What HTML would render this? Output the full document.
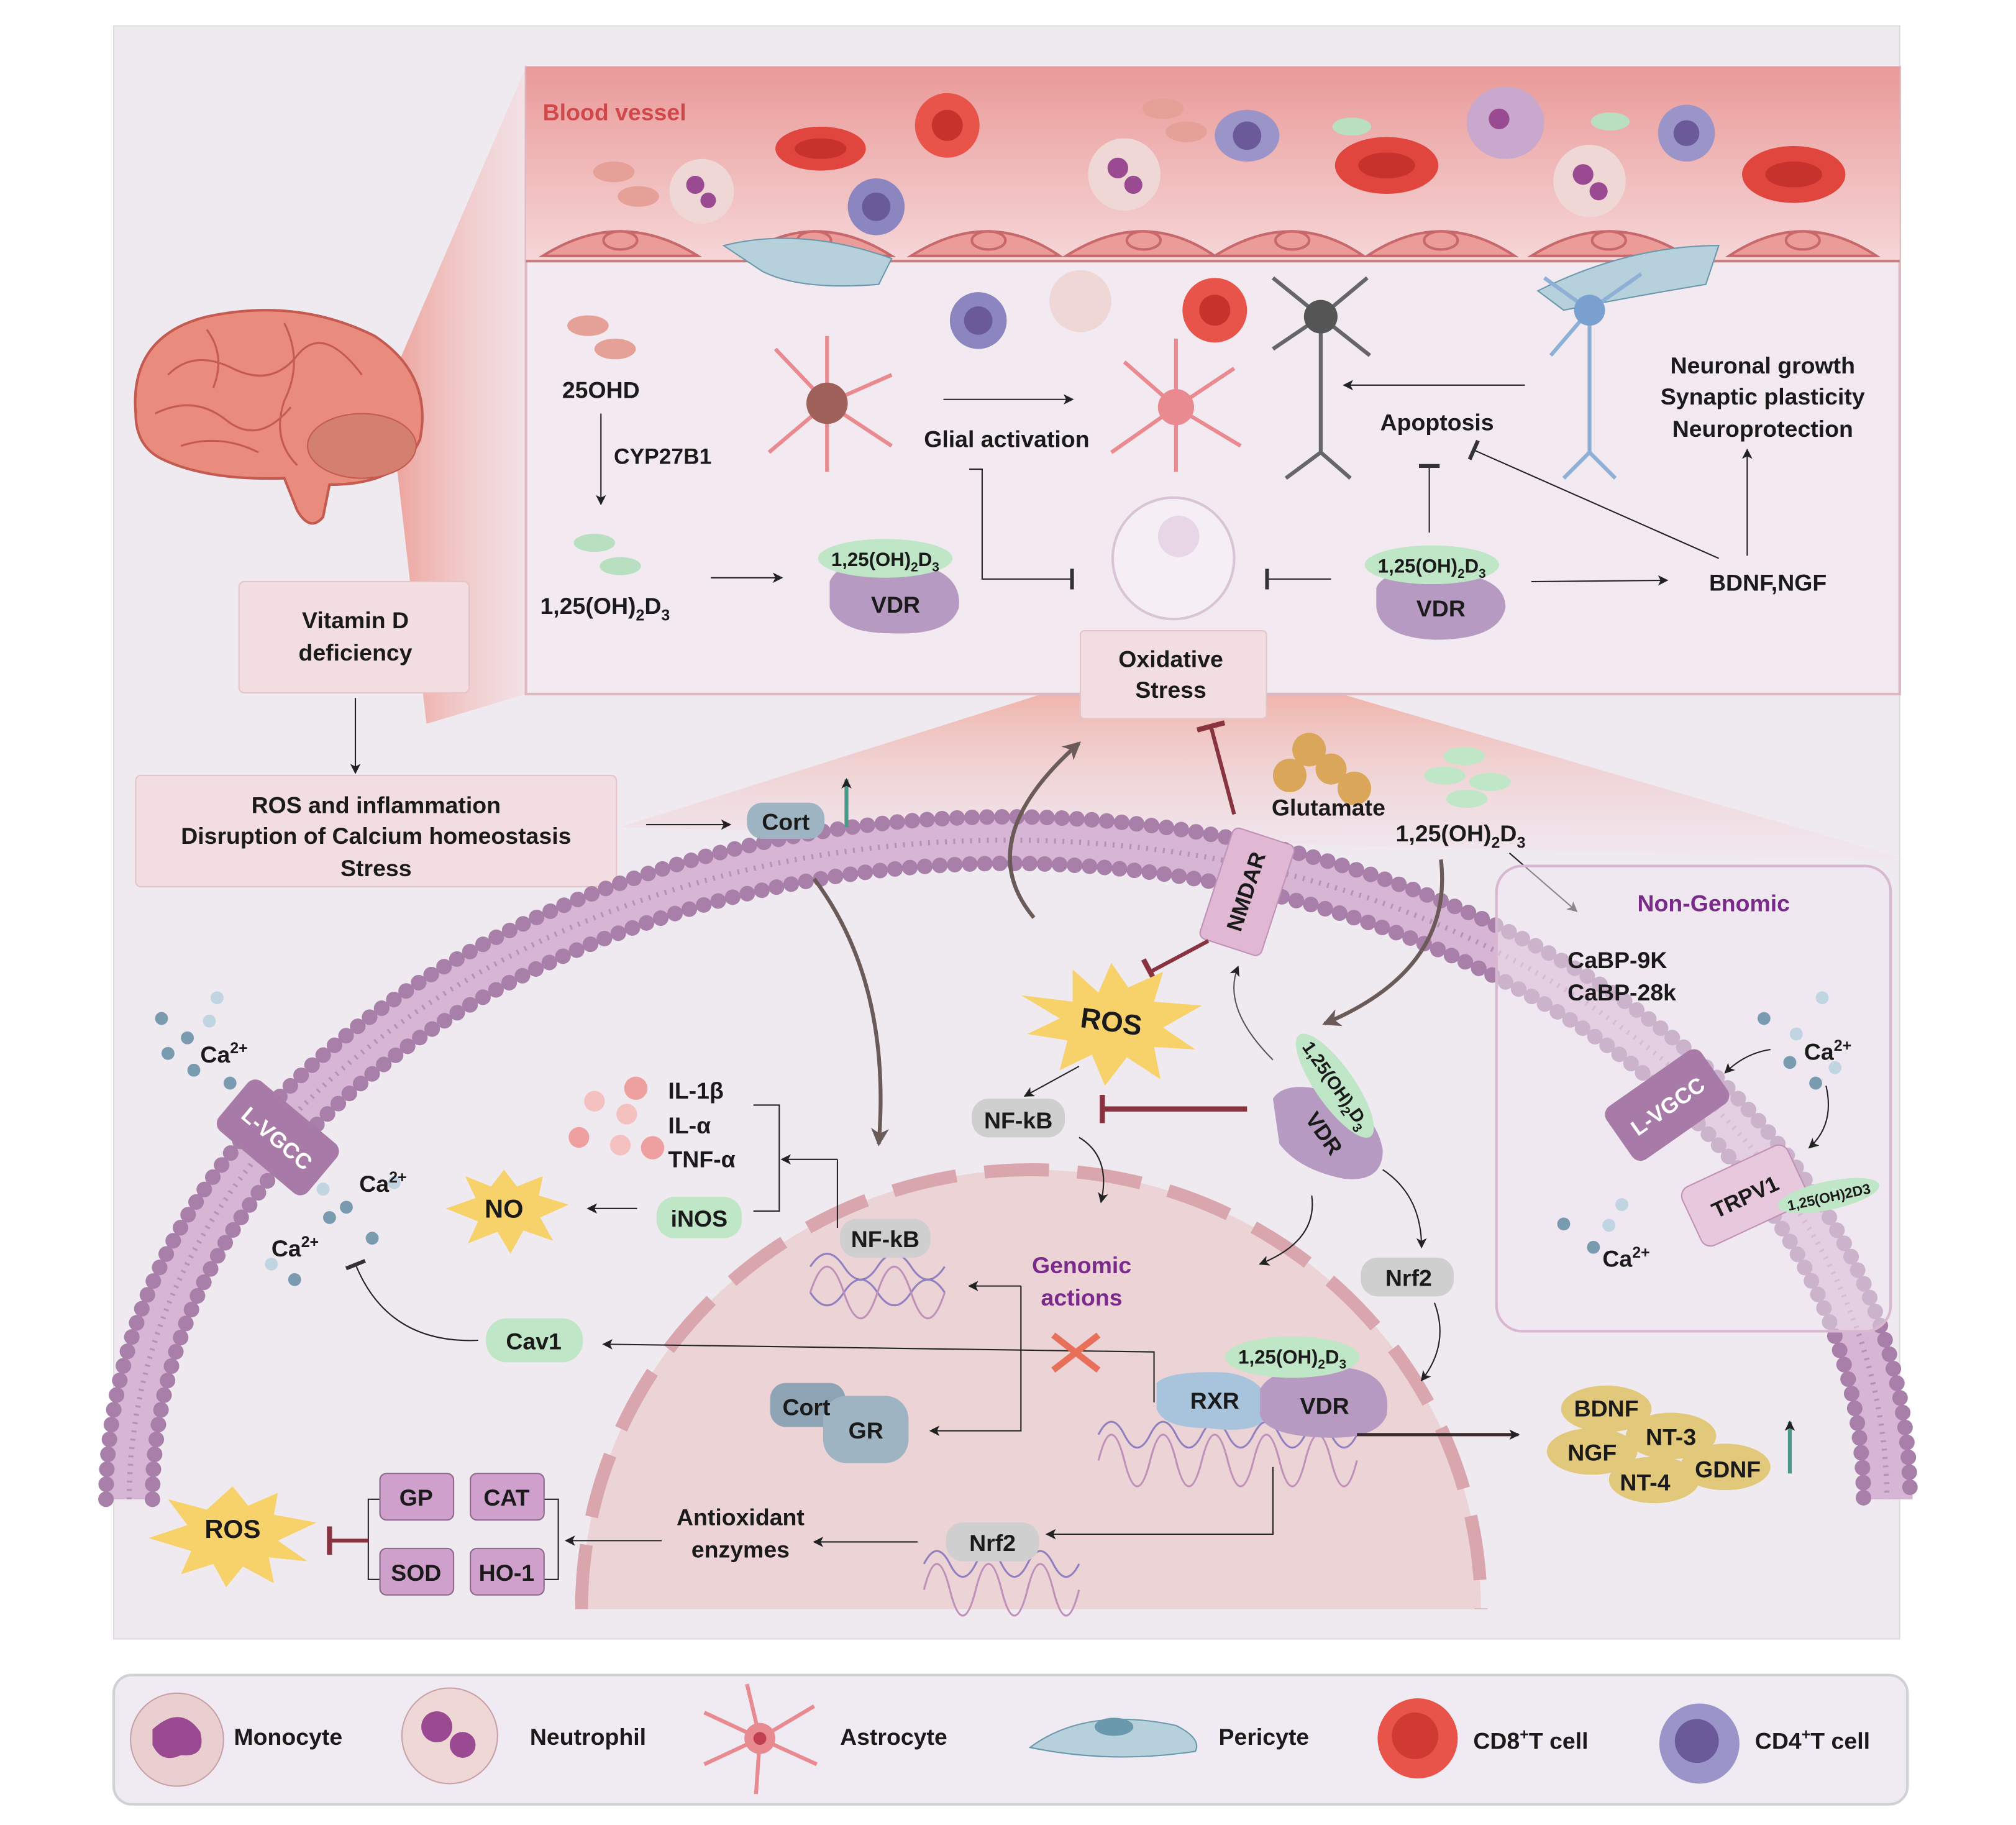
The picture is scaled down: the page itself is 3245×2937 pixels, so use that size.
<!DOCTYPE html>
<html><head><meta charset="utf-8"><style>
html,body{margin:0;padding:0;background:#fff}
svg{display:block}
text{font-family:"Liberation Sans",sans-serif;font-weight:bold;fill:#1a1a1a}
</style></head><body>
<svg width="3245" height="2937" viewBox="0 0 1560 1412" preserveAspectRatio="none" xmlns="http://www.w3.org/2000/svg">
<defs>
<linearGradient id="bv" x1="0" y1="0" x2="0" y2="1"><stop offset="0" stop-color="#e99a98"/><stop offset="1" stop-color="#f6d6d8"/></linearGradient>
<linearGradient id="tri" x1="0" y1="0" x2="1" y2="0"><stop offset="0" stop-color="#ec8c80"/><stop offset="1" stop-color="#f6d6d6" stop-opacity="0.5"/></linearGradient>
<linearGradient id="tri2" x1="0" y1="0" x2="0" y2="1"><stop offset="0" stop-color="#ef9a88"/><stop offset="1" stop-color="#f3dfe6" stop-opacity="0.3"/></linearGradient>
<marker id="a" markerWidth="8" markerHeight="8" refX="7" refY="4" orient="auto" markerUnits="userSpaceOnUse"><path d="M0,0 L8,4 L0,8 L2,4z" fill="#222"/></marker>
<marker id="ab" markerWidth="14" markerHeight="14" refX="12" refY="7" orient="auto" markerUnits="userSpaceOnUse"><path d="M0,0 L14,7 L0,14 L4,7z" fill="#6a5a58"/></marker>
<marker id="t" markerWidth="4" markerHeight="16" refX="2" refY="8" orient="auto" markerUnits="userSpaceOnUse"><rect width="3" height="16" fill="#333"/></marker>
<marker id="tr" markerWidth="5" markerHeight="22" refX="2" refY="11" orient="auto" markerUnits="userSpaceOnUse"><rect width="4" height="22" fill="#8a3340"/></marker>
</defs>
<rect x="0" y="0" width="1560" height="1412" fill="#fff"/>
<rect x="88" y="20" width="1382" height="1248" fill="#efe9f0" stroke="#ddd" />
<path d="M300,300 L407,52 L407,537 L330,560 Z" fill="url(#tri)" opacity="0.8"/>
<path d="M480,640 L860,520 L980,520 L1475,665 Z" fill="url(#tri2)" opacity="0.8"/>
<rect x="407" y="52" width="1063" height="485" fill="#f3eaf1" stroke="#dcb8c0" stroke-width="2"/>
<rect x="407" y="52" width="1063" height="150" fill="url(#bv)"/>
<line x1="407" y1="202" x2="1470" y2="202" stroke="#c77c80" stroke-width="2"/>
<text x="420" y="93" font-size="18" style="fill:#d0484a">Blood vessel</text>
<g fill="#eb9c98" stroke="#c8686a" stroke-width="2">
<path d="M420,198 Q480,160 540,198Z"/><path d="M575,198 Q630,160 690,198Z"/><path d="M705,198 Q765,160 820,198Z"/><path d="M825,198 Q885,160 940,198Z"/><path d="M940,198 Q1000,160 1055,198Z"/><path d="M1058,198 Q1115,160 1172,198Z"/><path d="M1185,198 Q1245,160 1305,198Z"/><path d="M1338,198 Q1395,160 1452,198Z"/>
</g>
<g fill="none" stroke="#c8686a" stroke-width="2"><ellipse cx="480" cy="186" rx="13" ry="7"/><ellipse cx="630" cy="186" rx="13" ry="7"/><ellipse cx="765" cy="186" rx="13" ry="7"/><ellipse cx="885" cy="186" rx="13" ry="7"/><ellipse cx="1000" cy="186" rx="13" ry="7"/><ellipse cx="1115" cy="186" rx="13" ry="7"/><ellipse cx="1245" cy="186" rx="13" ry="7"/><ellipse cx="1395" cy="186" rx="13" ry="7"/></g>
<g><ellipse cx="635" cy="115" rx="35" ry="17" fill="#e0463e"/><ellipse cx="733" cy="97" rx="25" ry="25" fill="#e8544a"/><ellipse cx="965" cy="105" rx="25" ry="20" fill="#9a94c8"/><ellipse cx="678" cy="160" rx="22" ry="22" fill="#8c86c0"/><ellipse cx="1073" cy="128" rx="40" ry="22" fill="#e0463e"/><ellipse cx="1388" cy="135" rx="40" ry="22" fill="#e0463e"/><ellipse cx="1305" cy="103" rx="22" ry="22" fill="#9a94c8"/><ellipse cx="543" cy="148" rx="25" ry="25" fill="#efd7d6"/><ellipse cx="870" cy="135" rx="28" ry="28" fill="#efd7d6"/><ellipse cx="1230" cy="140" rx="28" ry="28" fill="#efd7d6"/><ellipse cx="1165" cy="95" rx="30" ry="28" fill="#c8a8cc"/><ellipse cx="475" cy="133" rx="16" ry="8" fill="#e5a097"/><ellipse cx="494" cy="152" rx="16" ry="8" fill="#e5a097"/><ellipse cx="900" cy="84" rx="16" ry="8" fill="#e5a097"/><ellipse cx="918" cy="102" rx="16" ry="8" fill="#e5a097"/><ellipse cx="1046" cy="98" rx="15" ry="7" fill="#b8e0c0"/><ellipse cx="1246" cy="94" rx="15" ry="7" fill="#b8e0c0"/></g>
<g fill="#9a4a90"><circle cx="538" cy="143" r="7"/><circle cx="548" cy="155" r="6"/><circle cx="865" cy="130" r="8"/><circle cx="877" cy="143" r="7"/><circle cx="1225" cy="135" r="8"/><circle cx="1237" cy="148" r="7"/><circle cx="1160" cy="92" r="8"/></g>
<g fill="#6a5a9a"><circle cx="965" cy="105" r="11"/><circle cx="678" cy="160" r="11"/><circle cx="1305" cy="103" r="10"/></g>
<g fill="#c8322c"><ellipse cx="635" cy="115" rx="20" ry="8"/><circle cx="733" cy="97" r="12"/><ellipse cx="1073" cy="128" rx="22" ry="10"/><ellipse cx="1388" cy="135" rx="22" ry="10"/></g>
<path d="M560,190 Q620,175 690,200 L680,220 Q620,225 590,210Z" fill="#b6d0dc" stroke="#6a98ad"/>
<path d="M1190,225 Q1260,190 1330,190 L1320,220 Q1260,230 1210,240Z" fill="#b6d0dc" stroke="#6a98ad"/>
<circle cx="757" cy="248" r="22" fill="#8c86c0"/><circle cx="757" cy="248" r="11" fill="#6a5a9a"/><circle cx="836" cy="233" r="24" fill="#efd7d6"/><circle cx="940" cy="240" r="25" fill="#e8544a"/><circle cx="940" cy="240" r="12" fill="#c8322c"/>
<ellipse cx="455" cy="252" rx="16" ry="8" fill="#e5a097"/><ellipse cx="476" cy="270" rx="16" ry="8" fill="#e5a097"/>
<ellipse cx="460" cy="420" rx="16" ry="7" fill="#b8e0c0"/><ellipse cx="480" cy="438" rx="16" ry="7" fill="#b8e0c0"/>
<g stroke="#e98a90" stroke-width="3"><line x1="640" y1="312" x2="600" y2="270"/><line x1="640" y1="312" x2="690" y2="290"/><line x1="640" y1="312" x2="595" y2="350"/><line x1="640" y1="312" x2="690" y2="345"/><line x1="640" y1="312" x2="640" y2="260"/><line x1="640" y1="312" x2="640" y2="365"/>
<line x1="910" y1="315" x2="870" y2="280"/><line x1="910" y1="315" x2="955" y2="285"/><line x1="910" y1="315" x2="860" y2="350"/><line x1="910" y1="315" x2="960" y2="345"/><line x1="910" y1="315" x2="910" y2="262"/><line x1="910" y1="315" x2="910" y2="365"/></g>
<circle cx="640" cy="312" r="16" fill="#a0605a"/><circle cx="910" cy="315" r="14" fill="#e98a90"/>
<g stroke="#666" stroke-width="3"><line x1="1022" y1="245" x2="1022" y2="350"/><line x1="1022" y1="245" x2="985" y2="215"/><line x1="1022" y1="245" x2="1058" y2="215"/><line x1="1022" y1="245" x2="985" y2="270"/><line x1="1022" y1="245" x2="1060" y2="275"/><line x1="1022" y1="350" x2="995" y2="370"/><line x1="1022" y1="350" x2="1045" y2="370"/></g>
<circle cx="1022" cy="245" r="13" fill="#555"/>
<g stroke="#8fb0d6" stroke-width="3"><line x1="1230" y1="240" x2="1230" y2="350"/><line x1="1230" y1="240" x2="1195" y2="215"/><line x1="1230" y1="240" x2="1270" y2="212"/><line x1="1230" y1="240" x2="1200" y2="275"/><line x1="1230" y1="350" x2="1210" y2="370"/><line x1="1230" y1="350" x2="1250" y2="370"/></g>
<circle cx="1230" cy="240" r="12" fill="#7aa0d0"/>
<text x="465" y="308" font-size="18" text-anchor="middle">25OHD</text>
<line x1="465" y1="320" x2="465" y2="390" stroke="#222" marker-end="url(#a)"/>
<text x="475" y="359" font-size="17">CYP27B1</text>
<text x="418" y="475" font-size="18">1,25(OH)<tspan font-size="12" dy="5">2</tspan><tspan dy="-5">D</tspan><tspan font-size="12" dy="5">3</tspan></text>
<line x1="550" y1="447" x2="605" y2="447" stroke="#222" marker-end="url(#a)"/>
<path d="M642,450 Q650,430 700,435 Q745,440 742,470 Q735,492 690,490 Q650,490 642,470Z" fill="#b69ac2"/>
<ellipse cx="685" cy="432" rx="52" ry="15" fill="#bfe6c6"/>
<text x="685" y="438" font-size="15" text-anchor="middle">1,25(OH)<tspan font-size="10" dy="4">2</tspan><tspan dy="-4">D</tspan><tspan font-size="10" dy="4">3</tspan></text>
<text x="693" y="474" font-size="18" text-anchor="middle">VDR</text>
<path d="M1065,455 Q1070,440 1115,442 Q1165,445 1165,470 Q1160,495 1110,495 Q1068,493 1065,470Z" fill="#b69ac2"/>
<ellipse cx="1108" cy="437" rx="52" ry="15" fill="#bfe6c6"/>
<text x="1108" y="443" font-size="15" text-anchor="middle">1,25(OH)<tspan font-size="10" dy="4">2</tspan><tspan dy="-4">D</tspan><tspan font-size="10" dy="4">3</tspan></text>
<text x="1115" y="477" font-size="18" text-anchor="middle">VDR</text>
<line x1="730" y1="309" x2="830" y2="309" stroke="#222" marker-end="url(#a)"/>
<text x="779" y="346" font-size="18" text-anchor="middle">Glial activation</text>
<polyline points="750,363 760,363 760,448 830,448" fill="none" stroke="#222" marker-end="url(#t)"/>
<line x1="1030" y1="448" x2="980" y2="448" stroke="#222" marker-end="url(#t)"/>
<line x1="1180" y1="298" x2="1040" y2="298" stroke="#222" marker-end="url(#a)"/>
<text x="1112" y="333" font-size="18" text-anchor="middle">Apoptosis</text>
<line x1="1106" y1="412" x2="1106" y2="360" stroke="#222" marker-end="url(#t)"/>
<line x1="1330" y1="432" x2="1140" y2="348" stroke="#222" marker-end="url(#t)"/>
<line x1="1185" y1="450" x2="1290" y2="449" stroke="#222" marker-end="url(#a)"/>
<text x="1368" y="457" font-size="18" text-anchor="middle">BDNF,NGF</text>
<line x1="1352" y1="430" x2="1352" y2="348" stroke="#222" marker-end="url(#a)"/>
<text x="1364" y="289" font-size="18" text-anchor="middle">Neuronal growth</text>
<text x="1364" y="313" font-size="18" text-anchor="middle">Synaptic plasticity</text>
<text x="1364" y="338" font-size="18" text-anchor="middle">Neuroprotection</text>
<circle cx="908" cy="432" r="47" fill="#f5eef4" stroke="#d8c4d4" stroke-width="2"/>
<circle cx="912" cy="415" r="16" fill="#e8d6e6"/>
<rect x="836" y="488" width="144" height="68" fill="#f2dde0" stroke="#e4c4c8" rx="3"/>
<text x="906" y="516" font-size="18" text-anchor="middle">Oxidative</text>
<text x="906" y="540" font-size="18" text-anchor="middle">Stress</text>
<!-- brain -->
<path d="M105,320 Q100,260 160,245 Q230,230 290,260 Q335,290 325,340 Q310,375 255,375 L250,400 Q240,412 230,395 L220,370 Q160,372 125,355 Q105,345 105,320Z" fill="#e98c7e" stroke="#c45a50" stroke-width="2"/>
<g fill="none" stroke="#c45a50" stroke-width="1.5"><path d="M130,290 Q150,270 180,285 T230,275 T280,290"/><path d="M120,320 Q150,305 175,325 T225,315"/><path d="M160,255 Q175,275 165,300"/><path d="M220,250 Q235,280 220,310 Q210,340 230,360"/><path d="M140,345 Q170,335 200,350"/></g>
<ellipse cx="280" cy="345" rx="42" ry="25" fill="#d48070" stroke="#c45a50"/>
<rect x="185" y="450" width="178" height="86" fill="#f2dde0" stroke="#e4c4c8" rx="4"/>
<text x="275" y="486" font-size="18" text-anchor="middle">Vitamin D</text>
<text x="275" y="511" font-size="18" text-anchor="middle">deficiency</text>
<line x1="275" y1="540" x2="275" y2="598" stroke="#222" marker-end="url(#a)"/>
<rect x="105" y="600" width="372" height="86" fill="#f2dde0" stroke="#e4c4c8" rx="4"/>
<text x="291" y="629" font-size="18" text-anchor="middle">ROS and inflammation</text>
<text x="291" y="653" font-size="18" text-anchor="middle">Disruption of Calcium homeostasis</text>
<text x="291" y="678" font-size="18" text-anchor="middle">Stress</text>
<line x1="500" y1="638" x2="565" y2="638" stroke="#222" marker-end="url(#a)"/>
<!-- membrane -->
<path d="M100,1160 A680,510 0 0 1 1460,1160" fill="none" stroke="#d6b6d4" stroke-width="40"/>
<path d="M100,1160 A680,510 0 0 1 1460,1160" fill="none" stroke="#b792b7" stroke-width="4" stroke-dasharray="1.5 5"/>
<path d="M82,1160 A698,528 0 0 1 1478,1160" fill="none" stroke="#a77fa8" stroke-width="12" stroke-dasharray="0.1 11.5" stroke-linecap="round"/>
<path d="M118,1160 A662,492 0 0 1 1442,1160" fill="none" stroke="#a77fa8" stroke-width="12" stroke-dasharray="0.1 11.5" stroke-linecap="round"/>
<!-- nucleus -->
<path d="M450,1245 A348,340 0 0 1 1146,1245 Z" fill="#ebd3d6"/>
<path d="M450,1245 A348,340 0 0 1 1146,1245" fill="none" stroke="#d8a6ac" stroke-width="10" stroke-dasharray="50 22"/>
<rect x="578" y="621" width="60" height="28" rx="12" fill="#9fb4c2"/><text x="608" y="642" font-size="18" text-anchor="middle">Cort</text>
<line x1="655" y1="640" x2="655" y2="603" stroke="#4a9a8a" stroke-width="3" marker-end="url(#a)"/>
<path d="M630,680 Q690,760 680,885" fill="none" stroke="#6a5a58" stroke-width="3" marker-end="url(#ab)"/>
<path d="M800,710 Q750,650 835,575" fill="none" stroke="#6a5a58" stroke-width="3" marker-end="url(#ab)"/>
<line x1="955" y1="630" x2="937" y2="562" stroke="#8a3340" stroke-width="3" marker-end="url(#tr)"/>
<circle cx="1013" cy="580" r="13" fill="#d9a65a"/><circle cx="998" cy="600" r="13" fill="#d9a65a"/><circle cx="1048" cy="610" r="13" fill="#d9a65a"/><circle cx="1030" cy="595" r="12" fill="#d9a65a"/>
<text x="1028" y="631" font-size="18" text-anchor="middle">Glutamate</text>
<ellipse cx="1133" cy="585" rx="16" ry="7" fill="#bfe6c6"/><ellipse cx="1118" cy="600" rx="16" ry="7" fill="#bfe6c6"/><ellipse cx="1153" cy="605" rx="16" ry="7" fill="#bfe6c6"/><ellipse cx="1135" cy="618" rx="16" ry="7" fill="#bfe6c6"/>
<text x="1080" y="651" font-size="18">1,25(OH)<tspan font-size="12" dy="5">2</tspan><tspan dy="-5">D</tspan><tspan font-size="12" dy="5">3</tspan></text>
<line x1="1168" y1="660" x2="1220" y2="705" stroke="#222" marker-end="url(#a)"/>
<path d="M1115,665 Q1125,750 1025,792" fill="none" stroke="#6a5a58" stroke-width="3" marker-end="url(#ab)"/>
<g transform="rotate(18 965 690)"><rect x="940" y="645" width="50" height="90" rx="5" fill="#e0b8d4" stroke="#c090b8"/></g>
<text x="965" y="695" font-size="17" text-anchor="middle" transform="rotate(-72 965 690)">NMDAR</text>
<line x1="935" y1="728" x2="890" y2="752" stroke="#8a3340" stroke-width="3" marker-end="url(#tr)"/>
<polygon points="860,745 873,764 900,752 893,775 930,778 900,795 925,812 893,810 898,835 872,818 855,840 845,816 820,828 826,805 795,800 820,788 790,770 830,775 830,750 850,768" fill="#f7d26a"/>
<text x="860" y="798" font-size="22" text-anchor="middle" transform="rotate(8 860 790)">ROS</text>
<line x1="835" y1="825" x2="793" y2="848" stroke="#222" marker-end="url(#a)"/>
<rect x="752" y="850" width="72" height="30" rx="13" fill="#cfcfcf"/><text x="788" y="873" font-size="18" text-anchor="middle">NF-kB</text>
<line x1="965" y1="858" x2="853" y2="858" stroke="#8a3340" stroke-width="4" marker-end="url(#tr)"/>
<path d="M835,880 Q860,895 852,930" fill="none" stroke="#222" marker-end="url(#a)"/>
<path d="M985,820 Q945,780 958,748" fill="none" stroke="#555" marker-end="url(#a)"/>
<path d="M985,850 Q995,835 1030,845 Q1065,860 1070,890 Q1070,915 1040,912 Q1005,905 990,885Z" fill="#b69ac2"/>
<text x="1023" y="882" font-size="17" text-anchor="middle" transform="rotate(55 1023 878)">VDR</text>
<ellipse cx="1033" cy="840" rx="48" ry="15" fill="#bfe6c6" transform="rotate(55 1033 840)"/>
<text x="1033" y="844" font-size="14" text-anchor="middle" transform="rotate(55 1033 840)">1,25(OH)<tspan font-size="10" dy="4">2</tspan><tspan dy="-4">D</tspan><tspan font-size="10" dy="4">3</tspan></text>
<path d="M1015,925 Q1020,960 975,978" fill="none" stroke="#222" marker-end="url(#a)"/>
<path d="M1070,905 Q1100,925 1100,965" fill="none" stroke="#222" marker-end="url(#a)"/>
<rect x="1053" y="973" width="72" height="30" rx="13" fill="#cfcfcf"/><text x="1090" y="995" font-size="18" text-anchor="middle">Nrf2</text>
<path d="M1110,1008 Q1122,1040 1100,1068" fill="none" stroke="#222" marker-end="url(#a)"/>
<g fill="#7a9ab0"><circle cx="125" cy="788" r="5"/><circle cx="145" cy="803" r="5"/><circle cx="130" cy="815" r="5"/><circle cx="150" cy="828" r="5"/><circle cx="178" cy="838" r="5"/><circle cx="268" cy="934" r="5"/><circle cx="288" cy="958" r="5"/><circle cx="228" cy="990" r="5"/><circle cx="255" cy="942" r="5"/></g>
<g fill="#c0d4e2"><circle cx="168" cy="772" r="5"/><circle cx="162" cy="790" r="5"/><circle cx="250" cy="920" r="5"/><circle cx="305" cy="915" r="5"/><circle cx="210" cy="978" r="5"/></g>
<text x="155" y="822" font-size="18">Ca<tspan font-size="12" dy="-7">2+</tspan></text>
<text x="278" y="922" font-size="18">Ca<tspan font-size="12" dy="-7">2+</tspan></text>
<text x="210" y="972" font-size="18">Ca<tspan font-size="12" dy="-7">2+</tspan></text>
<g transform="rotate(40 215 880)"><rect x="170" y="855" width="90" height="50" rx="8" fill="#a87aa8"/><text x="215" y="887" font-size="17" text-anchor="middle" style="fill:#fff">L-VGCC</text></g>
<g fill="#eea0a0"><circle cx="492" cy="842" r="9"/><circle cx="460" cy="852" r="8" fill="#f5c0c0"/><circle cx="485" cy="862" r="8" fill="#f5c0c0"/><circle cx="448" cy="880" r="8"/><circle cx="480" cy="886" r="8" fill="#f5c0c0"/><circle cx="505" cy="888" r="9"/></g>
<text x="517" y="850" font-size="18">IL-1β</text><text x="517" y="877" font-size="18">IL-α</text><text x="517" y="903" font-size="18">TNF-α</text>
<polyline points="583,855 603,855 603,937 583,937" fill="none" stroke="#222"/>
<line x1="648" y1="950" x2="648" y2="897" stroke="#222"/>
<line x1="648" y1="897" x2="605" y2="897" stroke="#222" marker-end="url(#a)"/>
<rect x="508" y="926" width="66" height="32" rx="14" fill="#bfe6c6"/><text x="541" y="949" font-size="18" text-anchor="middle">iNOS</text>
<line x1="493" y1="935" x2="455" y2="935" stroke="#222" marker-end="url(#a)"/>
<polygon points="390,905 400,918 420,910 417,925 440,932 418,942 428,960 405,952 395,970 385,953 362,962 370,945 345,935 368,927 360,910 380,918" fill="#f7d26a"/>
<text x="390" y="942" font-size="20" text-anchor="middle">NO</text>
<path d="M370,1037 Q300,1040 275,978" fill="none" stroke="#222" marker-end="url(#t)"/>
<rect x="376" y="1020" width="75" height="34" rx="16" fill="#bfe6c6"/><text x="413" y="1044" font-size="18" text-anchor="middle">Cav1</text>
<polyline points="893,1085 893,1046 467,1040" fill="none" stroke="#222" marker-end="url(#a)"/>
<g fill="none" stroke="#9080c0" stroke-width="1.5"><path d="M627,980 Q640,960 653,980 T679,980 T705,980 T731,980"/><path d="M627,1000 Q640,1020 653,1000 T679,1000 T705,1000 T731,1000"/><path d="M627,1000 Q640,960 653,1000 T679,1000 T705,1000 T731,1000" stroke="#c090b8"/></g>
<rect x="650" y="943" width="70" height="30" rx="13" fill="#cfcfcf"/><text x="685" y="965" font-size="18" text-anchor="middle">NF-kB</text>
<text x="837" y="985" font-size="18" text-anchor="middle" style="fill:#7a2a8a">Genomic</text>
<text x="837" y="1010" font-size="18" text-anchor="middle" style="fill:#7a2a8a">actions</text>
<g stroke="#e8705a" stroke-width="5"><line x1="815" y1="1033" x2="850" y2="1060"/><line x1="850" y1="1033" x2="815" y2="1060"/></g>
<polyline points="790,995 790,1107 720,1107" fill="none" stroke="#222" marker-end="url(#a)"/>
<line x1="790" y1="995" x2="750" y2="995" stroke="#222" marker-end="url(#a)"/>
<rect x="596" y="1070" width="58" height="34" rx="12" fill="#8ea4b4"/><rect x="637" y="1080" width="66" height="52" rx="18" fill="#9fb4c2"/>
<text x="624" y="1095" font-size="18" text-anchor="middle">Cort</text><text x="670" y="1113" font-size="18" text-anchor="middle">GR</text>
<g fill="none" stroke="#9080c0" stroke-width="1.5"><path d="M850,1110 Q860,1090 870,1110 T890,1110 T910,1110 T930,1110 T950,1110 T970,1110 T990,1110 T1010,1110 T1030,1110 T1050,1110"/><path d="M850,1130 Q860,1090 870,1130 T890,1130 T910,1130 T930,1130 T950,1130 T970,1130 T990,1130 T1010,1130 T1030,1130 T1050,1130" stroke="#c090b8"/></g>
<path d="M895,1070 Q905,1060 950,1062 Q985,1068 980,1095 Q975,1110 935,1105 Q900,1105 895,1090Z" fill="#a8c4dc"/>
<path d="M975,1075 Q985,1055 1040,1058 Q1078,1062 1073,1095 Q1065,1115 1020,1112 Q980,1110 975,1095Z" fill="#b69ac2"/>
<ellipse cx="1000" cy="1050" rx="52" ry="16" fill="#bfe6c6"/>
<text x="1000" y="1055" font-size="15" text-anchor="middle">1,25(OH)<tspan font-size="10" dy="4">2</tspan><tspan dy="-4">D</tspan><tspan font-size="10" dy="4">3</tspan></text>
<text x="940" y="1090" font-size="18" text-anchor="middle">RXR</text><text x="1025" y="1094" font-size="18" text-anchor="middle">VDR</text>
<line x1="1050" y1="1110" x2="1175" y2="1110" stroke="#3a2a2a" stroke-width="2.5" marker-end="url(#a)"/>
<polyline points="985,1135 985,1187 810,1187" fill="none" stroke="#222" marker-end="url(#a)"/>
<g fill="none" stroke="#9080c0" stroke-width="1.5"><path d="M715,1210 Q725,1190 735,1210 T755,1210 T775,1210 T795,1210 T815,1210 T835,1210"/><path d="M715,1230 Q725,1190 735,1230 T755,1230 T775,1230 T795,1230 T815,1230 T835,1230" stroke="#c090b8"/></g>
<rect x="732" y="1178" width="72" height="30" rx="13" fill="#cfcfcf"/><text x="768" y="1200" font-size="18" text-anchor="middle">Nrf2</text>
<line x1="710" y1="1193" x2="630" y2="1193" stroke="#222" marker-end="url(#a)"/>
<text x="573" y="1180" font-size="18" text-anchor="middle">Antioxidant</text><text x="573" y="1205" font-size="18" text-anchor="middle">enzymes</text>
<line x1="512" y1="1192" x2="438" y2="1192" stroke="#222" marker-end="url(#a)"/>
<polyline points="300,1160 285,1160 285,1222 300,1222" fill="none" stroke="#222"/>
<polyline points="420,1160 432,1160 432,1222 420,1222" fill="none" stroke="#222"/>
<g fill="#d0a0cc" stroke="#8a6a88"><rect x="294" y="1140" width="57" height="36" rx="5"/><rect x="364" y="1140" width="57" height="36" rx="5"/><rect x="294" y="1198" width="57" height="36" rx="5"/><rect x="364" y="1198" width="57" height="36" rx="5"/></g>
<text x="322" y="1165" font-size="18" text-anchor="middle">GP</text><text x="392" y="1165" font-size="18" text-anchor="middle">CAT</text><text x="322" y="1223" font-size="18" text-anchor="middle">SOD</text><text x="392" y="1223" font-size="18" text-anchor="middle">HO-1</text>
<line x1="285" y1="1192" x2="255" y2="1192" stroke="#8a3340" stroke-width="3" marker-end="url(#tr)"/>
<polygon points="180,1150 192,1165 215,1155 212,1172 245,1178 215,1192 238,1208 208,1205 212,1225 188,1212 175,1228 165,1210 140,1218 148,1200 115,1190 145,1180 130,1160 160,1168" fill="#f7d26a"/>
<text x="180" y="1190" font-size="20" text-anchor="middle">ROS</text>
<g fill="#e2c87a"><ellipse cx="1243" cy="1090" rx="35" ry="18"/><ellipse cx="1232" cy="1123" rx="35" ry="18"/><ellipse cx="1293" cy="1111" rx="35" ry="18"/><ellipse cx="1280" cy="1145" rx="35" ry="18"/><ellipse cx="1335" cy="1135" rx="35" ry="18"/></g>
<text x="1243" y="1096" font-size="18" text-anchor="middle">BDNF</text><text x="1232" y="1130" font-size="18" text-anchor="middle">NGF</text><text x="1293" y="1118" font-size="18" text-anchor="middle">NT-3</text><text x="1273" y="1153" font-size="18" text-anchor="middle">NT-4</text><text x="1337" y="1143" font-size="18" text-anchor="middle">GDNF</text>
<line x1="1385" y1="1140" x2="1385" y2="1100" stroke="#4a9a8a" stroke-width="3" marker-end="url(#a)"/>
<rect x="1158" y="670" width="305" height="360" rx="20" fill="#f1e8f0" fill-opacity="0.5" stroke="#d8b8d0" stroke-width="2"/>
<text x="1326" y="705" font-size="18" text-anchor="middle" style="fill:#7a2a8a">Non-Genomic</text>
<text x="1213" y="749" font-size="18">CaBP-9K</text><text x="1213" y="774" font-size="18">CaBP-28k</text>
<g fill="#7a9ab0"><circle cx="1365" cy="788" r="5"/><circle cx="1385" cy="822" r="5"/><circle cx="1405" cy="838" r="5"/><circle cx="1210" cy="947" r="5"/><circle cx="1233" cy="965" r="5"/></g>
<g fill="#c0d4e2"><circle cx="1410" cy="772" r="5"/><circle cx="1390" cy="800" r="5"/><circle cx="1420" cy="826" r="5"/><circle cx="1255" cy="932" r="5"/><circle cx="1245" cy="948" r="5"/></g>
<text x="1396" y="820" font-size="18">Ca<tspan font-size="12" dy="-7">2+</tspan></text>
<text x="1240" y="980" font-size="18">Ca<tspan font-size="12" dy="-7">2+</tspan></text>
<path d="M1370,812 Q1350,815 1335,830" fill="none" stroke="#222" marker-end="url(#a)"/>
<path d="M1413,840 Q1420,870 1400,888" fill="none" stroke="#222" marker-end="url(#a)"/>
<g transform="rotate(-35 1290 855)"><rect x="1245" y="830" width="90" height="50" rx="8" fill="#a87aa8"/><text x="1290" y="862" font-size="17" text-anchor="middle" style="fill:#fff">L-VGCC</text></g>
<g transform="rotate(-25 1350 925)"><rect x="1305" y="900" width="90" height="50" rx="8" fill="#e8c8dc" stroke="#c090b8"/><text x="1350" y="932" font-size="17" text-anchor="middle">TRPV1</text></g>
<ellipse cx="1415" cy="925" rx="40" ry="11" fill="#bfe6c6" transform="rotate(-12 1415 925)"/>
<text x="1415" y="930" font-size="11" text-anchor="middle" transform="rotate(-12 1415 925)">1,25(OH)2D3</text>
<rect x="88" y="1296" width="1388" height="100" rx="14" fill="#f0eaf2" stroke="#d0d0d8" stroke-width="2"/>
<circle cx="137" cy="1346" r="36" fill="#e9cfd0" stroke="#c8a0a8"/><path d="M118,1338 Q140,1318 155,1340 Q160,1360 140,1358 Q125,1365 118,1350Z" fill="#9a4a90"/>
<text x="181" y="1350" font-size="18">Monocyte</text>
<circle cx="348" cy="1343" r="37" fill="#efd7d6" stroke="#c8a0a8"/><circle cx="338" cy="1336" r="12" fill="#9a4a90"/><circle cx="358" cy="1350" r="10" fill="#9a4a90"/>
<text x="410" y="1350" font-size="18">Neutrophil</text>
<g stroke="#e98a90" stroke-width="3"><line x1="588" y1="1345" x2="545" y2="1325"/><line x1="588" y1="1345" x2="630" y2="1320"/><line x1="588" y1="1345" x2="545" y2="1365"/><line x1="588" y1="1345" x2="632" y2="1365"/><line x1="588" y1="1345" x2="578" y2="1303"/><line x1="588" y1="1345" x2="585" y2="1388"/></g>
<circle cx="588" cy="1345" r="12" fill="#e98a90"/><circle cx="588" cy="1345" r="5" fill="#c04050"/>
<text x="650" y="1350" font-size="18">Astrocyte</text>
<path d="M797,1352 Q840,1320 910,1335 Q930,1345 925,1355 Q860,1365 797,1352Z" fill="#b6d0dc" stroke="#6a98ad"/>
<ellipse cx="862" cy="1336" rx="15" ry="7" fill="#6a98ad"/>
<text x="943" y="1350" font-size="18">Pericyte</text>
<circle cx="1097" cy="1345" r="31" fill="#e8544a"/><circle cx="1095" cy="1343" r="18" fill="#d03a32"/>
<text x="1140" y="1353" font-size="18">CD8<tspan font-size="12" dy="-7">+</tspan><tspan dy="7">T cell</tspan></text>
<circle cx="1315" cy="1349" r="31" fill="#9a94c8"/><circle cx="1313" cy="1347" r="17" fill="#6a5a9a"/>
<text x="1358" y="1353" font-size="18">CD4<tspan font-size="12" dy="-7">+</tspan><tspan dy="7">T cell</tspan></text>
</svg>
</body></html>
